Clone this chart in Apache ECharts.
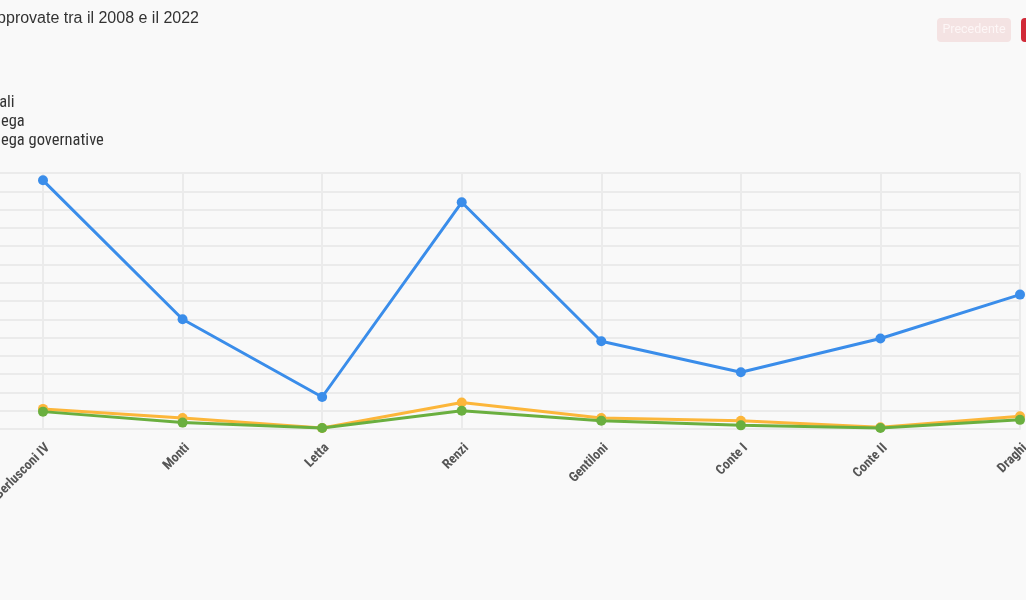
<!DOCTYPE html>
<html>
<head>
<meta charset="utf-8">
<script src="https://cdn.jsdelivr.net/npm/echarts@6/dist/echarts.min.js"></script>
<style>
html,body{margin:0;padding:0;background:#f9f9f9;}
#chart{width:1026px;height:600px;}
</style>
</head>
<body>
<div id="chart"></div>
<script>
var titleText = 'Leggi approvate tra il 2008 e il 2022';
var categories = ['Berlusconi IV','Monti','Letta','Renzi','Gentiloni','Conte I','Conte II','Draghi'];
var seriesNames = ['Leggi totali','Leggi delega','Leggi delega governative'];
var leggiTotali = [272, 120, 35, 248, 96, 62, 99, 147];
var leggiDelega = [22, 12, 1, 29, 12, 9, 2, 14];
var leggiDelegaGov = [19, 7, 1, 20, 9, 4, 1, 10];
var yMin = 0, yMax = 280, yInterval = 20;

var condensed = '"Roboto Condensed","Liberation Sans Narrow","DejaVu Sans Condensed",sans-serif';
function measure(text, font){
  var c = document.createElement('canvas').getContext('2d');
  c.font = font; return c.measureText(text).width;
}
var titleSize = 16;
var titleFont = titleSize + 'px "Liberation Sans", Arial, sans-serif';
var titleLeft = 199 - measure(titleText, titleFont) - 5;
var legSize = 16.5;
var legFont = legSize + 'px ' + condensed;
var legLeft = -measure('Leggi del', legFont) - 30 - 5;

var chart = echarts.init(document.getElementById('chart'));
var colors = ['#3a8dea','#fcb63a','#6aaf3f'];
var data = [leggiTotali, leggiDelega, leggiDelegaGov];
chart.setOption({
  backgroundColor: '#f9f9f9',
  animation: false,
  color: colors,
  title: {
    text: titleText, left: titleLeft, top: 6,
    textStyle: {fontFamily: '"Liberation Sans", Arial, sans-serif', fontSize: titleSize, fontWeight: 'normal', color: '#333'}
  },
  legend: {
    orient: 'vertical', left: legLeft, top: 89, itemGap: 2, itemHeight: 17, itemWidth: 25,
    textStyle: {fontFamily: condensed, fontSize: legSize, color: '#333'},
    data: seriesNames
  },
  grid: {left: 43, right: 6, top: 173, bottom: 171, containLabel: false, outerBoundsMode: 'none'},
  xAxis: {
    type: 'category', data: categories, boundaryGap: false,
    axisLine: {lineStyle: {color: '#ebebeb', width: 2}},
    axisTick: {show: false},
    splitLine: {show: true, lineStyle: {color: '#ebebeb', width: 2}},
    axisLabel: {rotate: 45, margin: 12, verticalAlign: 'top', fontFamily: condensed, fontSize: 13.5, fontWeight: 'bold', color: '#555'}
  },
  yAxis: {
    type: 'value', min: yMin, max: yMax, interval: yInterval,
    axisLine: {show: false},
    axisTick: {show: true, length: 43, lineStyle: {color: '#ebebeb', width: 2}},
    axisLabel: {show: false},
    splitLine: {show: true, lineStyle: {color: '#ebebeb', width: 2}}
  },
  series: seriesNames.map(function(n, i){
    return {
      name: n, type: 'line', data: data[i], symbol: 'circle', symbolSize: 10,
      lineStyle: {width: 3}, z: 10 + i
    };
  }),
  graphic: [
    {type: 'rect', left: 937, top: 18, shape: {width: 74, height: 24, r: 4}, style: {fill: '#f4e3e3'}},
    {type: 'text', x: 974, y: 30, style: {text: 'Precedente', fill: '#fdf6f6', font: '12.5px Roboto, sans-serif', align: 'center', verticalAlign: 'middle'}},
    {type: 'rect', left: 1021, top: 18, shape: {width: 80, height: 24, r: 4}, style: {fill: '#d12a38'}},
    {type: 'text', x: 1061, y: 30, style: {text: 'Successivo', fill: '#ffffff', font: '12.5px Roboto, sans-serif', align: 'center', verticalAlign: 'middle'}}
  ]
});
</script>
</body>
</html>
